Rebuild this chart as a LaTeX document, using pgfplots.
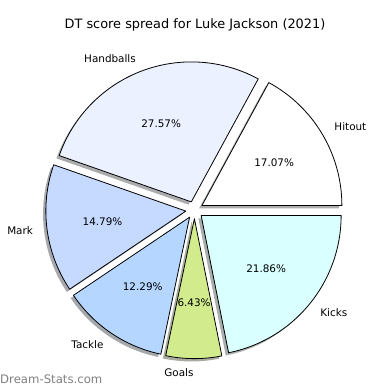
\documentclass[border=0pt]{standalone}
\usepackage{pgfplots}
\pgfplotsset{compat=1.18}
\usepackage{pgfplotstable}
\usepackage{fontspec}
\setmainfont{DejaVu Sans}
\definecolor{cHit}{HTML}{FFFFFF}
\definecolor{cHand}{HTML}{EBF1FF}
\definecolor{cMark}{HTML}{C6D9FF}
\definecolor{cTack}{HTML}{B5D6FF}
\definecolor{cGoal}{HTML}{D2EB8C}
\definecolor{cKick}{HTML}{D9FFFF}
\pgfplotstableread{
label value col
Hitout 17.07 cHit
Handballs 27.57 cHand
Mark 14.79 cMark
Tackle 12.29 cTack
Goals 6.43 cGoal
Kicks 21.86 cKick
}\piedata
\begin{document}
\begin{tikzpicture}
\begin{axis}[x=140bp, y=140bp, scale only axis,
  xmin=-1.389, xmax=1.396, ymin=-1.286, ymax=1.5,
  hide axis, clip=false]
\pgfplotsextra{
  \path (rel axis cs:0,0) rectangle (rel axis cs:1,1);
  \def\R{140bp}
  \def\ex{0.062}
  \xdef\tot{0}
  \foreach \i in {0,...,5}{%
    \pgfplotstablegetelem{\i}{value}\of\piedata
    \pgfmathsetmacro\t{\tot+\pgfplotsretval}\xdef\tot{\t}}
  % shadows
  \xdef\cum{0}
  \foreach \i in {0,...,5}{%
    \pgfplotstablegetelem{\i}{value}\of\piedata \let\v\pgfplotsretval
    \pgfplotstablegetelem{\i}{col}\of\piedata \let\c\pgfplotsretval
    \pgfmathsetmacro\aA{\cum/\tot*360}
    \pgfmathsetmacro\aB{(\cum+\v)/\tot*360}
    \pgfmathsetmacro\mid{(\aA+\aB)/2}
    \pgfmathsetmacro\sx{\ex*cos(\mid)-0.02}
    \pgfmathsetmacro\sy{\ex*sin(\mid)-0.02}
    \fill[fill=\c!30!black, opacity=0.45] (axis cs:\sx,\sy) -- ++(\aA:\R) arc[start angle=\aA, end angle=\aB, radius=\R] -- cycle;
    \pgfmathsetmacro\nc{\cum+\v}\xdef\cum{\nc}}
  % wedges and labels
  \xdef\cum{0}
  \foreach \i in {0,...,5}{%
    \pgfplotstablegetelem{\i}{value}\of\piedata \let\v\pgfplotsretval
    \pgfplotstablegetelem{\i}{col}\of\piedata \let\c\pgfplotsretval
    \pgfplotstablegetelem{\i}{label}\of\piedata \let\lab\pgfplotsretval
    \pgfmathsetmacro\aA{\cum/\tot*360}
    \pgfmathsetmacro\aB{(\cum+\v)/\tot*360}
    \pgfmathsetmacro\mid{(\aA+\aB)/2}
    \pgfmathsetmacro\ox{\ex*cos(\mid)}
    \pgfmathsetmacro\oy{\ex*sin(\mid)}
    \filldraw[fill=\c, draw=black, line width=0.8bp, line join=round] (axis cs:\ox,\oy) -- ++(\aA:\R) arc[start angle=\aA, end angle=\aB, radius=\R] -- cycle;
    \pgfmathsetmacro\lx{\ox+1.1*cos(\mid)}
    \pgfmathsetmacro\ly{\oy+1.1*sin(\mid)}
    \pgfmathsetmacro\px{\ox+0.6*cos(\mid)}
    \pgfmathsetmacro\py{\oy+0.6*sin(\mid)}
    \ifdim\lx pt>0pt \def\anc{west}\else\def\anc{east}\fi
    \node[anchor=\anc, inner sep=0pt, font=\fontsize{10.4bp}{12bp}\selectfont] at (axis cs:\lx,\ly) {\lab};
    \node[anchor=center, inner sep=0pt, font=\fontsize{10.4bp}{12bp}\selectfont] at (axis cs:\px,\py) {\v\%};
    \pgfmathsetmacro\nc{\cum+\v}\xdef\cum{\nc}}
  \node[anchor=center, inner sep=0pt, font=\fontsize{12.9bp}{15bp}\selectfont] at (axis cs:0.004,1.321) {DT score spread for Luke Jackson (2021)};
  \node[anchor=west, inner sep=0pt, text=black!50, font=\fontsize{11.7bp}{13bp}\selectfont] at (axis cs:-1.389,-1.207) {Dream-Stats.com};
}
\end{axis}
\end{tikzpicture}
\end{document}
